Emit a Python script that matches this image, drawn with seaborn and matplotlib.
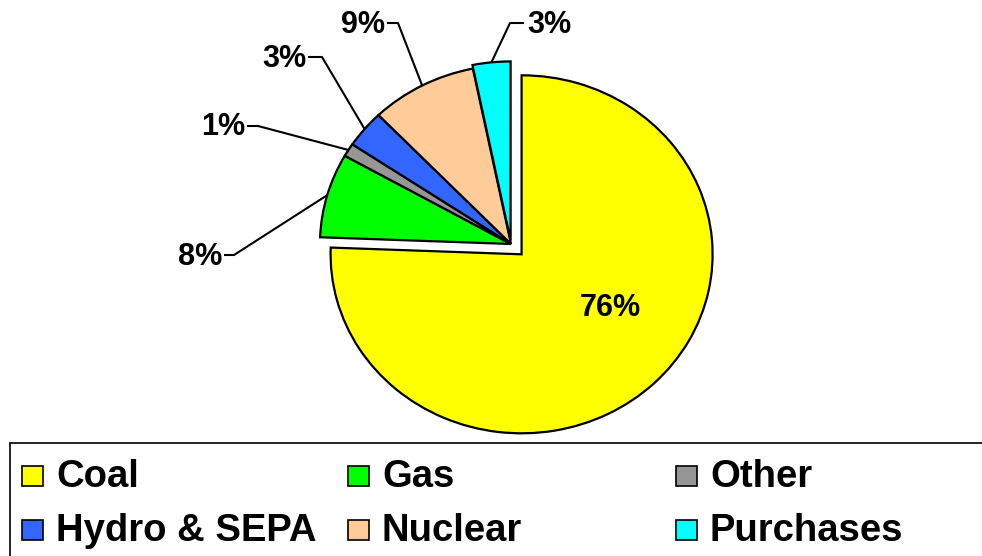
import numpy as np
import matplotlib
matplotlib.use("Agg")
import matplotlib.pyplot as plt
from matplotlib.patches import Rectangle
import seaborn as sns

sns.set_theme(style="white")
plt.rcParams['font.family'] = ['Liberation Sans', 'DejaVu Sans']

# data (share of generation, %)
sources = ["Coal", "Gas", "Other", "Hydro & SEPA", "Nuclear", "Purchases"]
shares = [75.6, 7.6, 1.2, 3.4, 9.0, 3.2]
colors = ["#FFFF00", "#00FF00", "#969696", "#3366FF", "#FFCC99", "#00FFFF"]
explode = [0.08, 0, 0, 0, 0, 0.02]

W, H = 982, 556
# pixel placement of the pie centre and radii (pie drawn slightly wide)
CX, CY, RX, RY = 511, 244, 191, 179


def px2x(px):
    return (px - CX) / RX


def py2y(py):
    return (CY - py) / RY


fig = plt.figure(figsize=(W / 100, H / 100), dpi=100)
fig.patch.set_facecolor("white")
ax = fig.add_axes([0, 0, 1, 1])

wedges, _ = ax.pie(shares, colors=colors, explode=explode, startangle=90,
                   counterclock=False,
                   wedgeprops=dict(edgecolor="black", linewidth=1.6))
ax.set_aspect("auto")
ax.set_xlim(px2x(0), px2x(W))
ax.set_ylim(py2y(H), py2y(0))
ax.axis("off")

lab_font = dict(fontsize=22, fontweight="bold", color="black")

# Coal label inside the slice
ax.text(px2x(610), py2y(316), f"{round(shares[0])}%", ha="center",
        va="baseline", **lab_font)

# outside labels: text x, baseline, leader y, elbow x, alignment
outside = {
    1: (222, 265, 255, 234, "right"),
    2: (245, 135, 126, 258, "right"),
    3: (306, 67, 57, 322, "right"),
    4: (385, 33, 23, 398, "right"),
    5: (527, 33, 23, 510, "left"),
}
for i, (tx, base, ly, ex, ha) in outside.items():
    w = wedges[i]
    mid = np.deg2rad((w.theta1 + w.theta2) / 2)
    x0 = w.center[0] + w.r * np.cos(mid)
    y0 = w.center[1] + w.r * np.sin(mid)
    end = tx + 2 if ha == "right" else tx - 3
    ax.plot([x0, px2x(ex), px2x(end)], [y0, py2y(ly), py2y(ly)],
            color="black", lw=1.5, solid_capstyle="butt")
    ax.text(px2x(tx), py2y(base), f"{round(shares[i])}%", ha=ha,
            va="baseline", **lab_font)

# legend box at the bottom
fig.add_artist(Rectangle((10 / W, -0.05), 1.1, (H - 443) / H + 0.05,
                         transform=fig.transFigure, fill=False,
                         edgecolor="black", lw=1.2, clip_on=False))
col_x = [22, 348, 676]
row_y = [476, 530]
for k, name in enumerate(sources):
    mx = col_x[k % 3]
    my = row_y[k // 3]
    fig.add_artist(Rectangle((mx / W, 1 - (my + 10) / H), 21 / W, 20 / H,
                             transform=fig.transFigure, facecolor=colors[k],
                             edgecolor="black", lw=1.2))
    fig.text((mx + 34) / W, 1 - (my + 11) / H, name, fontsize=27.5,
             fontweight="bold", ha="left", va="baseline", color="black")

fig.savefig("out.png", dpi=100, facecolor="white")
